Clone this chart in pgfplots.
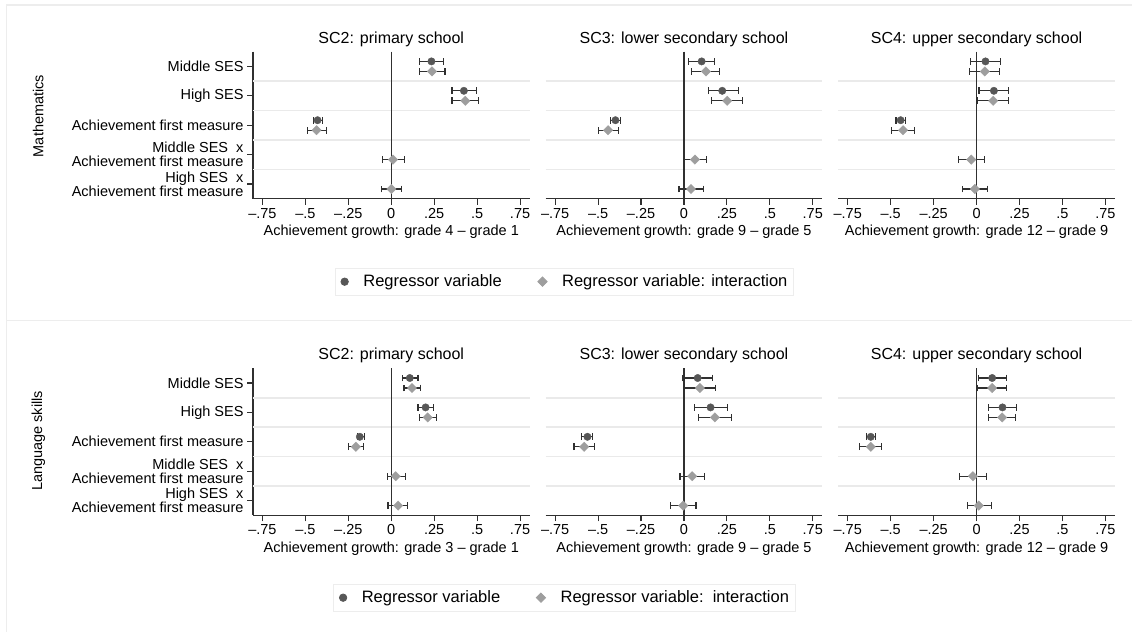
\documentclass[border=0pt]{standalone}
\usepackage{fontspec}
\setmainfont{Liberation Sans}
\usepackage{pgfplots}
\usepackage{pgfplotstable}
\pgfplotsset{compat=1.18}
\definecolor{cdark}{HTML}{575757}
\definecolor{clight}{HTML}{9E9E9E}
\definecolor{axisgray}{HTML}{303030}
\definecolor{gridgray}{HTML}{EAEAEA}
\definecolor{framegray}{HTML}{EDEDED}
\newcommand{\fs}[1]{\fontsize{#1}{#1}\selectfont}

% ---- Mathematics ----
\pgfplotstableread{
x y lo hi
0.234 0.83 0.162 0.305
0.423 1.83 0.354 0.495
-0.429 2.83 -0.455 -0.402
}\mAc
\pgfplotstableread{
x y lo hi
0.237 1.17 0.162 0.313
0.431 2.17 0.354 0.507
-0.435 3.17 -0.490 -0.377
0.010 4.17 -0.051 0.078
0.001 5.17 -0.057 0.059
}\mAd
\pgfplotstableread{
x y lo hi
0.103 0.83 0.029 0.180
0.223 1.83 0.141 0.316
-0.399 2.83 -0.430 -0.368
}\mBc
\pgfplotstableread{
x y lo hi
0.128 1.17 0.045 0.209
0.252 2.17 0.161 0.339
-0.442 3.17 -0.498 -0.381
0.064 4.17 0.000 0.132
0.041 5.17 -0.029 0.112
}\mBd
\pgfplotstableread{
x y lo hi
0.052 0.83 -0.035 0.140
0.101 1.83 0.014 0.188
-0.442 2.83 -0.469 -0.415
}\mCc
\pgfplotstableread{
x y lo hi
0.048 1.17 -0.040 0.135
0.097 2.17 0.008 0.184
-0.428 3.17 -0.496 -0.359
-0.031 4.17 -0.106 0.048
-0.010 5.17 -0.083 0.064
}\mCd
% ---- Language skills ----
\pgfplotstableread{
x y lo hi
0.108 0.83 0.063 0.156
0.200 1.83 0.156 0.247
-0.183 2.83 -0.199 -0.158
}\lAc
\pgfplotstableread{
x y lo hi
0.121 1.17 0.074 0.170
0.212 2.17 0.162 0.265
-0.206 3.17 -0.251 -0.160
0.026 4.17 -0.024 0.083
0.040 5.17 -0.019 0.092
}\lAd
\pgfplotstableread{
x y lo hi
0.080 0.83 -0.010 0.167
0.155 1.83 0.064 0.252
-0.562 2.83 -0.595 -0.533
}\lBc
\pgfplotstableread{
x y lo hi
0.093 1.17 0.000 0.186
0.180 2.17 0.083 0.277
-0.581 3.17 -0.640 -0.523
0.048 4.17 -0.023 0.118
-0.004 5.17 -0.076 0.070
}\lBd
\pgfplotstableread{
x y lo hi
0.091 0.83 0.010 0.172
0.151 1.83 0.072 0.233
-0.616 2.83 -0.641 -0.591
}\lCc
\pgfplotstableread{
x y lo hi
0.091 1.17 0.008 0.172
0.149 2.17 0.068 0.229
-0.616 3.17 -0.680 -0.551
-0.021 4.17 -0.097 0.056
0.013 5.17 -0.054 0.087
}\lCd

\pgfplotsset{
  panel/.style={
    scale only axis, width=276.5pt, height=147pt,
    xmin=-0.805, xmax=0.805, ymin=0.5, ymax=5.5, y dir=reverse,
    axis x line*=bottom, axis y line*=left,
    xtick={-0.75,-0.5,-0.25,0,0.25,0.5,0.75},
    xticklabels={–.75,–.5,–.25,0,.25,.5,.75},
    tick align=outside, major tick length=6pt,
    axis line style={line width=1.1pt, draw=axisgray},
    tick style={line width=1.1pt, draw=axisgray},
    ticklabel style={font=\fs{14.5}},
    title style={font=\fs{16}, at={(axis description cs:0.5,1)}, anchor=center, yshift=6.8pt},
    xlabel style={font=\fs{14.5}, at={(axis description cs:0.5,0)}, anchor=center, yshift=-33.5pt},
    clip=false,
    legend image code/.code={\draw[#1] plot coordinates {(0pt,0pt)};},
  },
  inner/.style={panel, ytick=\empty, y axis line style={draw=none}},
  outer/.style={panel, ytick={1,2,3,4,5},
    yticklabels={Middle SES, High SES, Achievement first measure, {Middle SES~~x\\Achievement first measure}, {High SES~~x\\Achievement first measure}},
    yticklabel style={align=right, font=\fontsize{14.5}{14.3}\selectfont}},
  leg/.style={legend style={at={(axis description cs:#1)}, anchor=center, draw=framegray, line width=0.8pt,
    legend columns=2, font=\fs{16.5}, inner xsep=6pt, inner ysep=7pt, nodes={inner sep=0pt},
    /tikz/every odd column/.append style={column sep=15pt},
    /tikz/every even column/.append style={column sep=36pt}}, legend cell align=left},
}

\newcommand{\panelplots}[2]{%
  \addplot[gridgray, line width=1.6pt, forget plot] coordinates {(-0.805,1.5) (0.805,1.5)};
  \addplot[gridgray, line width=1.6pt, forget plot] coordinates {(-0.805,2.5) (0.805,2.5)};
  \addplot[gridgray, line width=1.6pt, forget plot] coordinates {(-0.805,3.5) (0.805,3.5)};
  \addplot[gridgray, line width=1.6pt, forget plot] coordinates {(-0.805,4.5) (0.805,4.5)};
  \addplot[axisgray, line width=1.1pt, forget plot] coordinates {(0,0.5) (0,5.5)};
  \addplot[forget plot, only marks, mark=square*, mark size=3.3pt, mark options={rotate=45, draw=clight, fill=clight}, color=clight,
    error bars/.cd, x dir=both, x explicit,
    error bar style={line width=1.1pt, draw=axisgray},
    error mark options={line width=1.1pt, draw=axisgray, mark size=3.4pt, rotate=90}]
    table[x=x, y=y, x error plus expr=\thisrow{hi}-\thisrow{x}, x error minus expr=\thisrow{x}-\thisrow{lo}] {#2};
  \addplot[forget plot, only marks, mark=*, mark size=3.7pt, mark options={draw=cdark, fill=cdark}, color=cdark,
    error bars/.cd, x dir=both, x explicit,
    error bar style={line width=1.1pt, draw=axisgray},
    error mark options={line width=1.1pt, draw=axisgray, mark size=3.4pt, rotate=90}]
    table[x=x, y=y, x error plus expr=\thisrow{hi}-\thisrow{x}, x error minus expr=\thisrow{x}-\thisrow{lo}] {#1};
}

\begin{document}
\begin{tikzpicture}
\useasboundingbox (0pt,0pt) rectangle (1132pt,-632pt);
\draw[framegray, line width=1.2pt] (6.5pt,-632pt) -- (6.5pt,-5pt) -- (1132pt,-5pt);
\draw[framegray, line width=1.2pt] (6.5pt,-320.7pt) -- (1132pt,-320.7pt);

\node[rotate=90, font=\fs{14.5}] at (38.3pt,-116pt) {Mathematics};
\node[rotate=90, font=\fs{14.5}] at (38.3pt,-441pt) {Language skills};

% ---- top row ----
\begin{axis}[outer, at={(253pt,-51.7pt)}, anchor=north west,
  title={SC2: primary school}, xlabel={Achievement growth: grade 4 – grade 1}]
\panelplots{\mAc}{\mAd}
\end{axis}
\begin{axis}[inner, at={(545.7pt,-51.7pt)}, anchor=north west,
  title={SC3: lower secondary school}, xlabel={Achievement growth: grade 9 – grade 5},
  leg={0.0669,-0.5646}]
\panelplots{\mBc}{\mBd}
\addlegendimage{only marks, mark=*, mark size=3.7pt, draw=cdark, fill=cdark}
\addlegendentry{Regressor variable}
\addlegendimage{only marks, mark=square*, mark size=3.3pt, mark options={rotate=45}, draw=clight, fill=clight}
\addlegendentry{Regressor variable: interaction\hspace{12pt}}
\end{axis}
\begin{axis}[inner, at={(838.3pt,-51.7pt)}, anchor=north west,
  title={SC4: upper secondary school}, xlabel={Achievement growth: grade 12 – grade 9}]
\panelplots{\mCc}{\mCd}
\end{axis}

% ---- bottom row ----
\begin{axis}[outer, at={(253pt,-368.3pt)}, anchor=north west,
  title={SC2: primary school}, xlabel={Achievement growth: grade 3 – grade 1}]
\panelplots{\lAc}{\lAd}
\end{axis}
\begin{axis}[inner, at={(545.7pt,-368.3pt)}, anchor=north west,
  title={SC3: lower secondary school}, xlabel={Achievement growth: grade 9 – grade 5},
  leg={0.0669,-0.5605}]
\panelplots{\lBc}{\lBd}
\addlegendimage{only marks, mark=*, mark size=3.7pt, draw=cdark, fill=cdark}
\addlegendentry{Regressor variable}
\addlegendimage{only marks, mark=square*, mark size=3.3pt, mark options={rotate=45}, draw=clight, fill=clight}
\addlegendentry{Regressor variable:~~interaction\hspace{12pt}}
\end{axis}
\begin{axis}[inner, at={(838.3pt,-368.3pt)}, anchor=north west,
  title={SC4: upper secondary school}, xlabel={Achievement growth: grade 12 – grade 9}]
\panelplots{\lCc}{\lCd}
\end{axis}
\end{tikzpicture}
\end{document}
